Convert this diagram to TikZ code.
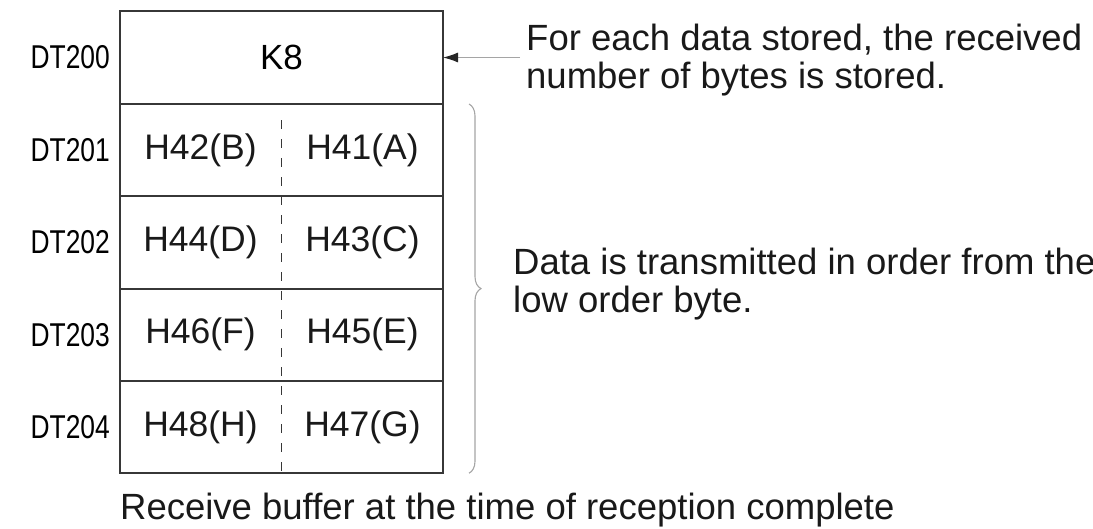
\documentclass[tikz,border=0pt]{standalone}
\usepackage{fontspec}
\setmainfont{Liberation Sans}
\usetikzlibrary{positioning,arrows.meta,decorations.pathreplacing}
\definecolor{boxGray}{RGB}{55, 55, 55}
\definecolor{noteGray}{RGB}{165, 165, 165}

\begin{document}
\begin{tikzpicture}[x=1pt,y=-1pt,
    cell/.style={draw=boxGray, line width=2.2pt, outer sep=0pt, inner sep=0pt,
      minimum width=323pt, minimum height=92.3pt, font=\fontsize{35}{42}\selectfont},
    half/.style={font=\fontsize{35.5}{42}\selectfont, text=black!90},
    reg/.style={font=\fontsize{33}{40}\selectfont, anchor=east, inner sep=0pt},
    note/.style={font=\fontsize{36.5}{38}\selectfont, align=left, anchor=north west,
      inner sep=0pt, text=black!90}]
        \useasboundingbox (0,0) rectangle (1093,528);
        \clip (0,0) rectangle (1093,528);
        \node[cell, minimum height=93pt] (k8row) at (281.5,57.5) {K8};
        \node[reg] (dt200) at (110,57.5) {\scalebox{0.8}[1]{DT200}};
        \foreach \i/\prev/\hi/\lo in {1/k8row/H42(B)/H41(A), 2/row1/H44(D)/H43(C),
            3/row2/H46(F)/H45(E), 4/row3/H48(H)/H47(G)} {
          \node[cell, below=0pt of \prev] (row\i) {};
          \node[half] (hi\i) at ([xshift=-81pt]row\i.center) {\hi};
          \node[half] (lo\i) at ([xshift=81pt]row\i.center) {\lo};
          \pgfmathtruncatemacro{\reg}{200+\i}
          \node[reg] (dt\reg) at ([xshift=-10pt]row\i.west) {\scalebox{0.8}[1]{DT\reg}};
        }
        % byte divider
        \draw[boxGray, line width=1.8pt, dash pattern=on 9pt off 10pt]
          ([yshift=-16pt]row1.north) -- ([yshift=2pt]row4.south);
        \node[note] (countnote) at (526,24)
          {For each data stored, the received\\number of bytes is stored.};
        \coordinate (arrowtail) at (520,57.5);
        \draw[noteGray, line width=1pt, -{Latex[length=15pt,width=10pt,color=black!85]}]
          (arrowtail) -- (k8row.east);
        \draw[noteGray, line width=1.1pt, decorate, decoration={brace, amplitude=12pt}]
          ([xshift=26pt]row1.north east) -- ([xshift=26pt]row4.south east);
        \node[note] (ordernote) at (513,248)
          {Data is transmitted in order from the\\low order byte.};
        \node[note] (caption) at (120,493)
          {Receive buffer at the time of reception complete};
      \end{tikzpicture}
\end{document}
